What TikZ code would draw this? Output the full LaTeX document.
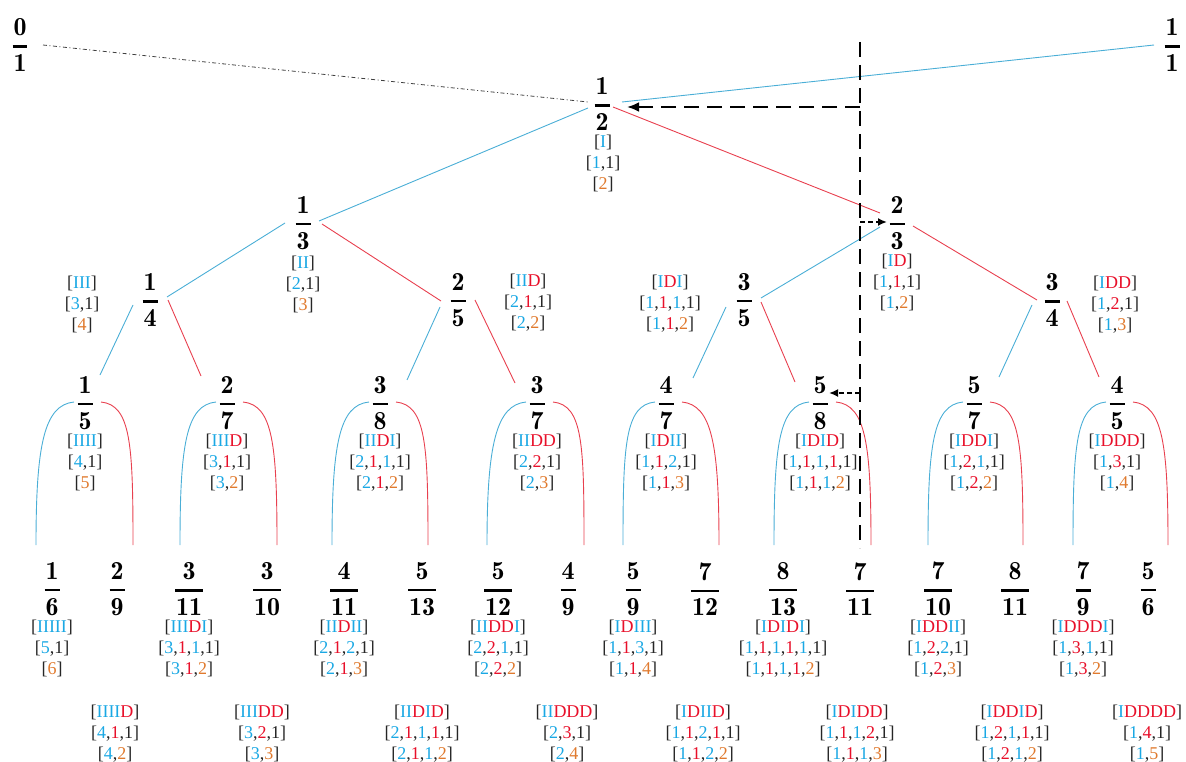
\documentclass[tikz,border=0pt]{standalone}
\usepackage{fontspec}
\setmainfont{Liberation Serif}
\usepackage{amsmath}
\usetikzlibrary{arrows.meta}
\definecolor{cblue}{HTML}{1AA8E4}
\definecolor{cred}{HTML}{E8102A}
\definecolor{corange}{HTML}{E07A2E}
\definecolor{cdark}{HTML}{262626}
\definecolor{lblue}{HTML}{4AAED6}
\definecolor{lred}{HTML}{E8404F}
\newcommand\cB[1]{\textcolor{cblue}{#1}}
\newcommand\cR[1]{\textcolor{cred}{#1}}
\newcommand\cO[1]{\textcolor{corange}{#1}}
\newcommand\lab[3]{{[}#1{]}\\{[}#2{]}\\{[}#3{]}}
\newcommand\fdig{\fontfamily{lmr}\fontseries{b}\selectfont}
\newcommand\fr[2]{$\genfrac{}{}{2.2pt}{0}{\hbox{\fdig\kern1pt#1\kern1pt}}{\hbox{\fdig\kern1pt#2\kern1pt}}$}
\begin{document}
\begin{tikzpicture}[x=1pt,y=-1pt,
  fracnode/.style={inner sep=1pt, font=\fontsize{26}{30}\selectfont, text=black},
  labnode/.style={align=center, anchor=north, inner sep=0pt, yshift=7pt, font=\fontsize{18}{21}\selectfont, text=cdark},
  bl/.style={draw=lblue, line width=0.9pt},
  rd/.style={draw=lred, line width=0.9pt},
  dashdotline/.style={draw=black!75, line width=0.8pt, dash pattern=on 4pt off 2.5pt on 1pt off 2.5pt},
  bigdash/.style={draw=black, line width=2.6pt, dash pattern=on 15pt off 8pt},
  smalldash/.style={draw=black, line width=1.8pt, dash pattern=on 5pt off 3pt}]
\useasboundingbox (0,0) rectangle (1186,762);
% fractions
\node[fracnode] (f01) at (20,45) {\fr{0}{1}};
\node[fracnode] (f11) at (1172,45) {\fr{1}{1}};
\node[fracnode] (f12) at (602,104) {\fr{1}{2}};
\node[fracnode] (f13) at (303,223) {\fr{1}{3}};
\node[fracnode] (f23) at (897,223) {\fr{2}{3}};
\node[fracnode] (f14) at (150,300) {\fr{1}{4}};
\node[fracnode] (f25) at (458,300) {\fr{2}{5}};
\node[fracnode] (f35) at (744,300) {\fr{3}{5}};
\node[fracnode] (f34) at (1052,300) {\fr{3}{4}};
\node[fracnode] (f15) at (85,403) {\fr{1}{5}};
\node[fracnode] (f27) at (227,403) {\fr{2}{7}};
\node[fracnode] (f38) at (380,403) {\fr{3}{8}};
\node[fracnode] (f37) at (537,403) {\fr{3}{7}};
\node[fracnode] (f47) at (666,403) {\fr{4}{7}};
\node[fracnode] (f58) at (820,403) {\fr{5}{8}};
\node[fracnode] (f57) at (974,403) {\fr{5}{7}};
\node[fracnode] (f45) at (1117,403) {\fr{4}{5}};
\node[fracnode] (f16) at (52,589) {\fr{1}{6}};
\node[fracnode] (f29) at (117,589) {\fr{2}{9}};
\node[fracnode] (f311) at (189,589) {\fr{3}{11}};
\node[fracnode] (f310) at (267,589) {\fr{3}{10}};
\node[fracnode] (f411) at (344,589) {\fr{4}{11}};
\node[fracnode] (f513) at (422,589) {\fr{5}{13}};
\node[fracnode] (f512) at (498,589) {\fr{5}{12}};
\node[fracnode] (f49) at (568,589) {\fr{4}{9}};
\node[fracnode] (f59) at (633,589) {\fr{5}{9}};
\node[fracnode] (f712) at (705,589) {\fr{7}{12}};
\node[fracnode] (f813) at (783,589) {\fr{8}{13}};
\node[fracnode] (f711) at (860,589) {\fr{7}{11}};
\node[fracnode] (f710) at (938,589) {\fr{7}{10}};
\node[fracnode] (f811) at (1015,589) {\fr{8}{11}};
\node[fracnode] (f79) at (1083,589) {\fr{7}{9}};
\node[fracnode] (f56) at (1148,589) {\fr{5}{6}};
% labels
\node[labnode] (l12) at (603,142) {\lab{\cB{I}}{\cB{1},1}{\cO{2}}};
\node[labnode] (l13) at (303,263) {\lab{\cB{II}}{\cB{2},1}{\cO{3}}};
\node[labnode] (l23) at (897,261) {\lab{\cB{I}\cR{D}}{\cB{1},\cR{1},1}{\cB{1},\cO{2}}};
\node[labnode] (l14) at (82,283) {\lab{\cB{III}}{\cB{3},1}{\cO{4}}};
\node[labnode] (l25) at (528,281) {\lab{\cB{II}\cR{D}}{\cB{2},\cR{1},1}{\cB{2},\cO{2}}};
\node[labnode] (l35) at (670,282) {\lab{\cB{I}\cR{D}\cB{I}}{\cB{1},\cR{1},\cB{1},1}{\cB{1},\cR{1},\cO{2}}};
\node[labnode] (l34) at (1115,283) {\lab{\cB{I}\cR{DD}}{\cB{1},\cR{2},1}{\cB{1},\cO{3}}};
\node[labnode] (l15) at (85,441) {\lab{\cB{IIII}}{\cB{4},1}{\cO{5}}};
\node[labnode] (l27) at (227,441) {\lab{\cB{III}\cR{D}}{\cB{3},\cR{1},1}{\cB{3},\cO{2}}};
\node[labnode] (l38) at (380,441) {\lab{\cB{II}\cR{D}\cB{I}}{\cB{2},\cR{1},\cB{1},1}{\cB{2},\cR{1},\cO{2}}};
\node[labnode] (l37) at (537,441) {\lab{\cB{II}\cR{DD}}{\cB{2},\cR{2},1}{\cB{2},\cO{3}}};
\node[labnode] (l47) at (666,441) {\lab{\cB{I}\cR{D}\cB{II}}{\cB{1},\cR{1},\cB{2},1}{\cB{1},\cR{1},\cO{3}}};
\node[labnode] (l58) at (820,441) {\lab{\cB{I}\cR{D}\cB{I}\cR{D}}{\cB{1},\cR{1},\cB{1},\cR{1},1}{\cB{1},\cR{1},\cB{1},\cO{2}}};
\node[labnode] (l57) at (974,441) {\lab{\cB{I}\cR{DD}\cB{I}}{\cB{1},\cR{2},\cB{1},1}{\cB{1},\cR{2},\cO{2}}};
\node[labnode] (l45) at (1117,441) {\lab{\cB{I}\cR{DDD}}{\cB{1},\cR{3},1}{\cB{1},\cO{4}}};
\node[labnode] (l16) at (52,627) {\lab{\cB{IIIII}}{\cB{5},1}{\cO{6}}};
\node[labnode] (l311) at (189,627) {\lab{\cB{III}\cR{D}\cB{I}}{\cB{3},\cR{1},\cB{1},1}{\cB{3},\cR{1},\cO{2}}};
\node[labnode] (l411) at (344,627) {\lab{\cB{II}\cR{D}\cB{II}}{\cB{2},\cR{1},\cB{2},1}{\cB{2},\cR{1},\cO{3}}};
\node[labnode] (l512) at (498,627) {\lab{\cB{II}\cR{DD}\cB{I}}{\cB{2},\cR{2},\cB{1},1}{\cB{2},\cR{2},\cO{2}}};
\node[labnode] (l59) at (633,627) {\lab{\cB{I}\cR{D}\cB{III}}{\cB{1},\cR{1},\cB{3},1}{\cB{1},\cR{1},\cO{4}}};
\node[labnode] (l813) at (783,627) {\lab{\cB{I}\cR{D}\cB{I}\cR{D}\cB{I}}{\cB{1},\cR{1},\cB{1},\cR{1},\cB{1},1}{\cB{1},\cR{1},\cB{1},\cR{1},\cO{2}}};
\node[labnode] (l710) at (938,627) {\lab{\cB{I}\cR{DD}\cB{II}}{\cB{1},\cR{2},\cB{2},1}{\cB{1},\cR{2},\cO{3}}};
\node[labnode] (l79) at (1083,627) {\lab{\cB{I}\cR{DDD}\cB{I}}{\cB{1},\cR{3},\cB{1},1}{\cB{1},\cR{3},\cO{2}}};
\node[labnode] (l29) at (115,712) {\lab{\cB{IIII}\cR{D}}{\cB{4},\cR{1},1}{\cB{4},\cO{2}}};
\node[labnode] (l310) at (262,712) {\lab{\cB{III}\cR{DD}}{\cB{3},\cR{2},1}{\cB{3},\cO{3}}};
\node[labnode] (l513) at (422,712) {\lab{\cB{II}\cR{D}\cB{I}\cR{D}}{\cB{2},\cR{1},\cB{1},\cR{1},1}{\cB{2},\cR{1},\cB{1},\cO{2}}};
\node[labnode] (l49) at (567,712) {\lab{\cB{II}\cR{DDD}}{\cB{2},\cR{3},1}{\cB{2},\cO{4}}};
\node[labnode] (l712) at (703,712) {\lab{\cB{I}\cR{D}\cB{II}\cR{D}}{\cB{1},\cR{1},\cB{2},\cR{1},1}{\cB{1},\cR{1},\cB{2},\cO{2}}};
\node[labnode] (l711) at (857,712) {\lab{\cB{I}\cR{D}\cB{I}\cR{DD}}{\cB{1},\cR{1},\cB{1},\cR{2},1}{\cB{1},\cR{1},\cB{1},\cO{3}}};
\node[labnode] (l811) at (1012,712) {\lab{\cB{I}\cR{DD}\cB{I}\cR{D}}{\cB{1},\cR{2},\cB{1},\cR{1},1}{\cB{1},\cR{2},\cB{1},\cO{2}}};
\node[labnode] (l56) at (1147,712) {\lab{\cB{I}\cR{DDDD}}{\cB{1},\cR{4},1}{\cB{1},\cO{5}}};
% top connectors
\draw[dashdotline] ([shift={(23,0)}]f01.center) -- ([shift={(-14,-2)}]f12.center);
\draw[bl] ([shift={(-18,0)}]f11.center) -- ([shift={(20,-2)}]f12.center);
\draw[bl] ([shift={(-14,4)}]f12.center) -- ([shift={(16,-2)}]f13.center);
\draw[rd] ([shift={(11,3)}]f12.center) -- ([shift={(-17,-10)}]f23.center);
\draw[bl] ([shift={(-18,0)}]f13.center) -- ([shift={(17,-3)}]f14.center);
\draw[rd] ([shift={(19,1)}]f13.center) -- ([shift={(-17,1)}]f25.center);
\draw[bl] ([shift={(-17,4)}]f23.center) -- ([shift={(17,-2)}]f35.center);
\draw[rd] ([shift={(16,3)}]f23.center) -- ([shift={(-15,0)}]f34.center);
\draw[bl] ([shift={(-17,5)}]f14.center) -- ([shift={(15,-28)}]f15.center);
\draw[rd] ([shift={(18,0)}]f14.center) -- ([shift={(-26,-27)}]f27.center);
\draw[bl] ([shift={(-18,7)}]f25.center) -- ([shift={(27,-23)}]f38.center);
\draw[rd] ([shift={(17,0)}]f25.center) -- ([shift={(-22,-20)}]f37.center);
\draw[bl] ([shift={(-18,7)}]f35.center) -- ([shift={(27,-25)}]f47.center);
\draw[rd] ([shift={(17,2)}]f35.center) -- ([shift={(-25,-21)}]f58.center);
\draw[bl] ([shift={(-20,5)}]f34.center) -- ([shift={(25,-26)}]f57.center);
\draw[rd] ([shift={(15,1)}]f34.center) -- ([shift={(-18,-26)}]f45.center);
% arcs
\foreach \p/\c/\d in {f15/f16/-16, f27/f311/-9, f38/f411/-12, f37/f512/-11, f47/f59/-10, f58/f813/-9, f57/f710/-10, f45/f79/-10}
  \draw[bl] ([shift={(-11,-1)}]\p.center) .. controls +(-30,3) and +(0,-100) .. ([shift={(\d,-44)}]\c.center);
\foreach \p/\c/\d in {f15/f29/16, f27/f310/10, f38/f513/6, f37/f49/16, f47/f712/14, f58/f711/11, f57/f811/8, f45/f56/20}
  \draw[rd] ([shift={(16,-1)}]\p.center) .. controls +(30,3) and +(0,-100) .. ([shift={(\d,-44)}]\c.center);
% dashed guide
\coordinate (vtop) at (860,42);
\coordinate (vbot) at (860,548);
\coordinate (hcorner) at (860,107);
\coordinate (a23) at (860,222);
\coordinate (a58) at (860,393);
\draw[bigdash] (vtop) -- (vbot);
\draw[bigdash,-{Latex[length=12pt,width=10pt]}] (hcorner) -- ([shift={(25,3)}]f12.center);
\draw[smalldash,-{Latex[length=9pt,width=8pt]}] (a23) -- ([shift={(-10,-1)}]f23.center);
\draw[smalldash,-{Latex[length=9pt,width=8pt]}] (a58) -- ([shift={(9,-10)}]f58.center);
\end{tikzpicture}
\end{document}
